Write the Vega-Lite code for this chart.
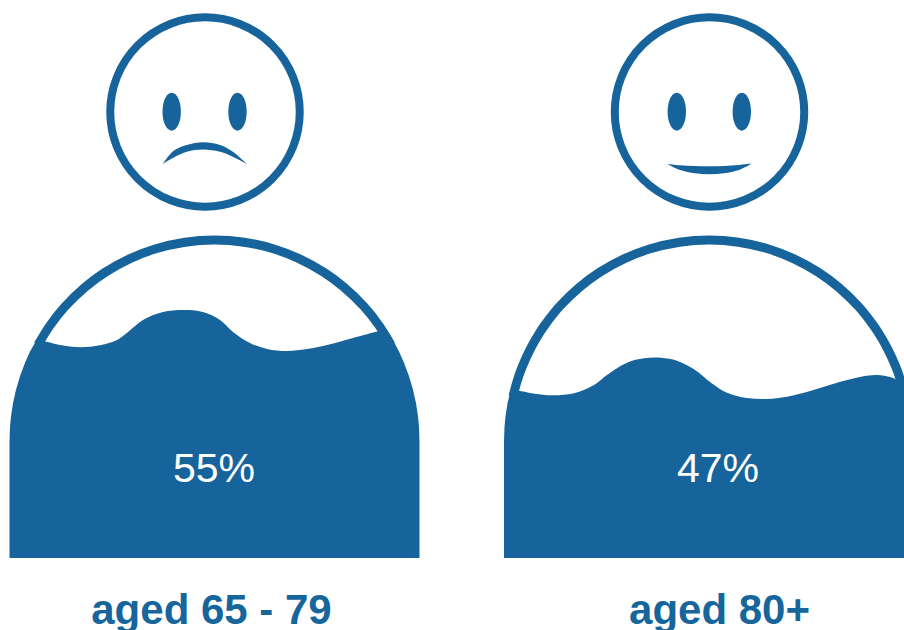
{
"$schema":"https://vega.github.io/schema/vega-lite/v6.json",
"width":904,"height":630,"padding":0,
"autosize":{"type":"none"},
"background":"#ffffff",
"config":{"view":{"stroke":null}},
"datasets":{
"sides":[
{"p":"al","x":9.5,"y":441},{"p":"al","x":10,"y":426.7},{"p":"al","x":11,"y":416.2},{"p":"al","x":13,"y":403.3},{"p":"al","x":16,"y":389.8},{"p":"al","x":20,"y":376.2},{"p":"al","x":25,"y":362.8},{"p":"al","x":30,"y":351.6},{"p":"al","x":36,"y":341},{"p":"al","x":44,"y":341},
{"p":"ar","x":379,"y":331},{"p":"ar","x":388,"y":331.8},{"p":"ar","x":393,"y":340.2},{"p":"ar","x":399,"y":351.6},{"p":"ar","x":404,"y":362.8},{"p":"ar","x":409,"y":376.2},{"p":"ar","x":413,"y":389.8},{"p":"ar","x":416,"y":403.3},{"p":"ar","x":418,"y":416.2},{"p":"ar","x":419,"y":426.7},{"p":"ar","x":419.5,"y":441},
{"p":"bl","x":504,"y":441},{"p":"bl","x":504.5,"y":426.7},{"p":"bl","x":505.5,"y":416.2},{"p":"bl","x":507.5,"y":403.3},{"p":"bl","x":510.5,"y":391},{"p":"bl","x":519,"y":390.7},
{"p":"br","x":899,"y":381},{"p":"br","x":904,"y":378}
],
"wave":[
{"p":"a","x":44,"y":341},{"p":"a","x":60,"y":345},{"p":"a","x":80,"y":347.3},{"p":"a","x":100,"y":345.3},{"p":"a","x":117,"y":340},{"p":"a","x":128,"y":332},{"p":"a","x":143,"y":320},{"p":"a","x":163,"y":312},{"p":"a","x":183,"y":310},{"p":"a","x":203,"y":312},{"p":"a","x":220,"y":320},{"p":"a","x":233,"y":332},{"p":"a","x":250,"y":343},{"p":"a","x":267,"y":349},{"p":"a","x":287,"y":351},{"p":"a","x":307,"y":349},{"p":"a","x":327,"y":345},{"p":"a","x":353,"y":338},{"p":"a","x":379,"y":331},
{"p":"b","x":519,"y":390.7},{"p":"b","x":537,"y":394},{"p":"b","x":554,"y":395.3},{"p":"b","x":574,"y":393.3},{"p":"b","x":594,"y":385},{"p":"b","x":607,"y":375},{"p":"b","x":627,"y":362.7},{"p":"b","x":644,"y":358.3},{"p":"b","x":661,"y":357.7},{"p":"b","x":677,"y":360.7},{"p":"b","x":694,"y":369.3},{"p":"b","x":711,"y":382.7},{"p":"b","x":727,"y":392.7},{"p":"b","x":747,"y":398},{"p":"b","x":767,"y":399},{"p":"b","x":787,"y":396.7},{"p":"b","x":811,"y":390.7},{"p":"b","x":837,"y":382.7},{"p":"b","x":861,"y":376.7},{"p":"b","x":877,"y":375},{"p":"b","x":891,"y":377.3},{"p":"b","x":899,"y":381}
],
"outline":[
{"p":"a","x":38,"y":344.8},{"p":"a","x":50,"y":325.5},{"p":"a","x":65,"y":306.6},{"p":"a","x":85,"y":287.3},{"p":"a","x":105,"y":272.4},{"p":"a","x":130,"y":258.6},{"p":"a","x":155,"y":249},{"p":"a","x":185,"y":242.2},{"p":"a","x":214.5,"y":240},{"p":"a","x":244,"y":242.2},{"p":"a","x":274,"y":249},{"p":"a","x":299,"y":258.6},{"p":"a","x":324,"y":272.4},{"p":"a","x":344,"y":287.3},{"p":"a","x":364,"y":306.6},{"p":"a","x":379,"y":325.5},{"p":"a","x":391,"y":344.8},
{"p":"b","x":513,"y":396.4},{"p":"b","x":517,"y":381.5},{"p":"b","x":522,"y":367.3},{"p":"b","x":530,"y":349.6},{"p":"b","x":540,"y":332.2},{"p":"b","x":544.5,"y":325.5},{"p":"b","x":559.5,"y":306.6},{"p":"b","x":579.5,"y":287.3},{"p":"b","x":599.5,"y":272.4},{"p":"b","x":624.5,"y":258.6},{"p":"b","x":649.5,"y":249},{"p":"b","x":679.5,"y":242.2},{"p":"b","x":709,"y":240},{"p":"b","x":738.5,"y":242.2},{"p":"b","x":768.5,"y":249},{"p":"b","x":793.5,"y":258.6},{"p":"b","x":818.5,"y":272.4},{"p":"b","x":838.5,"y":287.3},{"p":"b","x":858.5,"y":306.6},{"p":"b","x":873.5,"y":325.5},{"p":"b","x":878,"y":332.2},{"p":"b","x":888,"y":349.6},{"p":"b","x":896,"y":367.3},{"p":"b","x":901,"y":381.5},{"p":"b","x":904,"y":392.3}
],
"faces":[{"x":205,"y":112},{"x":709.5,"y":112}],
"shapes":[
{"s":"e1","x":162.5,"y":111.7,"y2":111.7},{"s":"e1","x":162.7,"y":107.9,"y2":115.5},{"s":"e1","x":163.4,"y":103.4,"y2":120},{"s":"e1","x":165.3,"y":98.1,"y2":125.3},{"s":"e1","x":168,"y":94.3,"y2":129.1},{"s":"e1","x":171.7,"y":92.7,"y2":130.7},{"s":"e1","x":175.4,"y":94.3,"y2":129.1},{"s":"e1","x":178.1,"y":98.1,"y2":125.3},{"s":"e1","x":180,"y":103.4,"y2":120},{"s":"e1","x":180.7,"y":107.9,"y2":115.5},{"s":"e1","x":180.9,"y":111.7,"y2":111.7},
{"s":"e2","x":228.3,"y":111.7,"y2":111.7},{"s":"e2","x":228.5,"y":107.9,"y2":115.5},{"s":"e2","x":229.2,"y":103.4,"y2":120},{"s":"e2","x":231.1,"y":98.1,"y2":125.3},{"s":"e2","x":233.8,"y":94.3,"y2":129.1},{"s":"e2","x":237.5,"y":92.7,"y2":130.7},{"s":"e2","x":241.2,"y":94.3,"y2":129.1},{"s":"e2","x":243.9,"y":98.1,"y2":125.3},{"s":"e2","x":245.8,"y":103.4,"y2":120},{"s":"e2","x":246.5,"y":107.9,"y2":115.5},{"s":"e2","x":246.7,"y":111.7,"y2":111.7},
{"s":"e3","x":667.6,"y":111.7,"y2":111.7},{"s":"e3","x":667.8,"y":107.9,"y2":115.5},{"s":"e3","x":668.5,"y":103.4,"y2":120},{"s":"e3","x":670.4,"y":98.1,"y2":125.3},{"s":"e3","x":673.1,"y":94.3,"y2":129.1},{"s":"e3","x":676.8,"y":92.7,"y2":130.7},{"s":"e3","x":680.5,"y":94.3,"y2":129.1},{"s":"e3","x":683.2,"y":98.1,"y2":125.3},{"s":"e3","x":685.1,"y":103.4,"y2":120},{"s":"e3","x":685.8,"y":107.9,"y2":115.5},{"s":"e3","x":686,"y":111.7,"y2":111.7},
{"s":"e4","x":732.6,"y":111.7,"y2":111.7},{"s":"e4","x":732.8,"y":107.9,"y2":115.5},{"s":"e4","x":733.5,"y":103.4,"y2":120},{"s":"e4","x":735.4,"y":98.1,"y2":125.3},{"s":"e4","x":738.1,"y":94.3,"y2":129.1},{"s":"e4","x":741.8,"y":92.7,"y2":130.7},{"s":"e4","x":745.5,"y":94.3,"y2":129.1},{"s":"e4","x":748.2,"y":98.1,"y2":125.3},{"s":"e4","x":750.1,"y":103.4,"y2":120},{"s":"e4","x":750.8,"y":107.9,"y2":115.5},{"s":"e4","x":751,"y":111.7,"y2":111.7},
{"s":"m1","x":162.7,"y":164,"y2":164},{"s":"m1","x":173.3,"y":151,"y2":157.8},{"s":"m1","x":186.7,"y":145,"y2":151.8},{"s":"m1","x":203.3,"y":142.3,"y2":149.5},{"s":"m1","x":220,"y":145,"y2":151.8},{"s":"m1","x":233.3,"y":152,"y2":157},{"s":"m1","x":246.7,"y":164,"y2":164},
{"s":"m2","x":667.3,"y":164,"y2":164},{"s":"m2","x":680,"y":165.3,"y2":170},{"s":"m2","x":695,"y":166,"y2":173.3},{"s":"m2","x":709.3,"y":166.2,"y2":174.3},{"s":"m2","x":724,"y":166,"y2":173.3},{"s":"m2","x":739,"y":165,"y2":170},{"s":"m2","x":751.7,"y":163.5,"y2":163.5}
],
"pct":[{"x":214,"y":482,"t":"55%"},{"x":718,"y":482,"t":"47%"}],
"lab":[{"x":211.5,"y":623.5,"t":"aged 65 - 79"},{"x":719.5,"y":623.5,"t":"aged 80+"}]
},
"layer":[
{"data":{"name":"sides"},"mark":{"type":"area","color":"#16649b","interpolate":"linear","clip":true},
 "encoding":{"x":{"field":"x","type":"quantitative","scale":{"domain":[0,904],"nice":false,"zero":false},"axis":null},
 "y":{"field":"y","type":"quantitative","scale":{"domain":[630,0],"nice":false,"zero":false},"axis":null,"stack":null},
 "y2":{"datum":558},"detail":{"field":"p"}}},
{"data":{"name":"wave"},"mark":{"type":"area","color":"#16649b","interpolate":"catmull-rom","clip":true},
 "encoding":{"x":{"field":"x","type":"quantitative","axis":null},"y":{"field":"y","type":"quantitative","axis":null,"stack":null},"y2":{"datum":558},"detail":{"field":"p"}}},
{"data":{"name":"outline"},"mark":{"type":"line","color":"#16649b","strokeWidth":9,"interpolate":"catmull-rom","clip":true},
 "encoding":{"x":{"field":"x","type":"quantitative","axis":null},"y":{"field":"y","type":"quantitative","axis":null},"detail":{"field":"p"}}},
{"data":{"name":"faces"},"mark":{"type":"point","filled":false,"stroke":"#16649b","strokeWidth":8,"size":35900,"opacity":1},
 "encoding":{"x":{"field":"x","type":"quantitative","axis":null},"y":{"field":"y","type":"quantitative","axis":null}}},
{"data":{"name":"shapes"},"mark":{"type":"area","color":"#16649b","interpolate":"catmull-rom"},
 "encoding":{"x":{"field":"x","type":"quantitative","axis":null},"y":{"field":"y","type":"quantitative","axis":null,"stack":null},"y2":{"field":"y2"},"detail":{"field":"s"}}},
{"data":{"name":"pct"},"mark":{"type":"text","color":"#ffffff","font":"Liberation Sans","fontSize":41,"align":"center","baseline":"alphabetic"},
 "encoding":{"x":{"field":"x","type":"quantitative","axis":null},"y":{"field":"y","type":"quantitative","axis":null},"text":{"field":"t"}}},
{"data":{"name":"lab"},"mark":{"type":"text","color":"#16669c","font":"Liberation Sans","fontWeight":"bold","fontSize":42,"align":"center","baseline":"alphabetic"},
 "encoding":{"x":{"field":"x","type":"quantitative","axis":null},"y":{"field":"y","type":"quantitative","axis":null},"text":{"field":"t"}}}
]
}
